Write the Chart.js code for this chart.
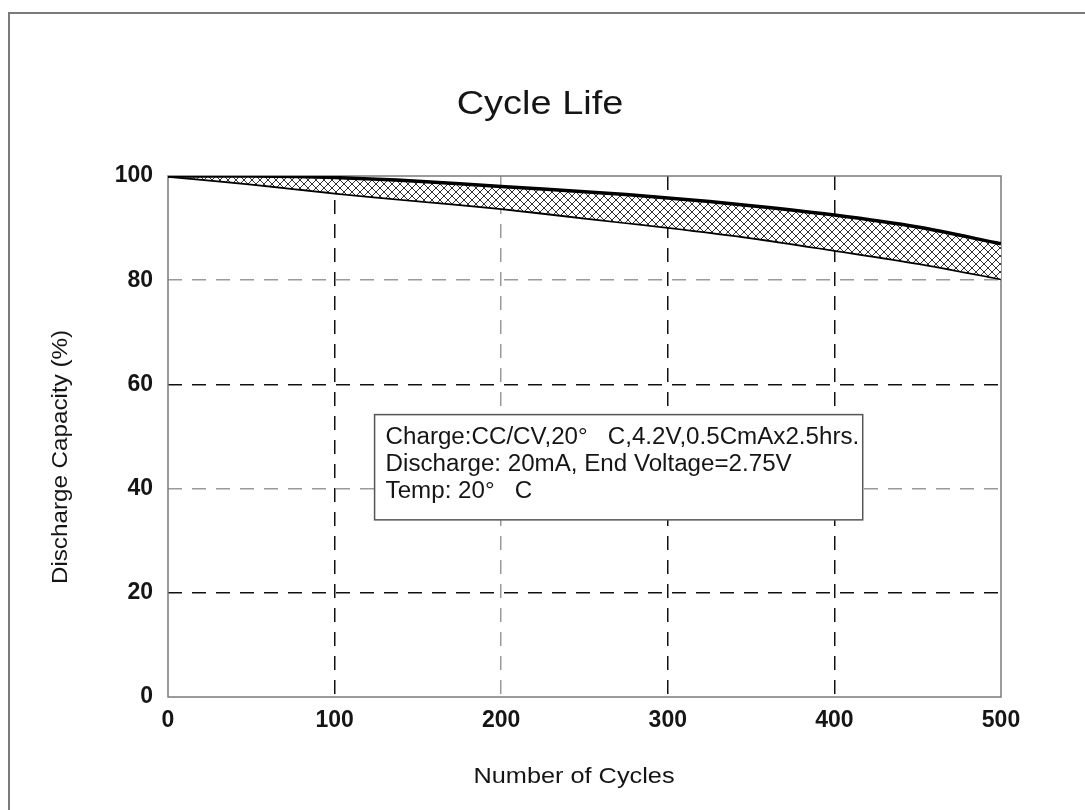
<!DOCTYPE html>
<html>
<head>
<meta charset="utf-8">
<script src="https://cdn.jsdelivr.net/npm/chart.js@4/dist/chart.umd.min.js"></script>
<style>
  body { margin: 0; background: #fff; }
  #wrap { width: 1085px; height: 810px; position: relative; }
</style>
</head>
<body>
<div id="wrap"><canvas id="cycleChart"></canvas></div>
<script>
const cycles = [0, 50, 100, 150, 200, 250, 300, 350, 400, 450, 500];
const upperCap = [100, 100, 99.7, 99, 98, 97, 95.8, 94.3, 92.5, 90.2, 87];
const lowerCap = [100, 98.5, 96.8, 95.3, 93.8, 92, 90.2, 88.2, 85.8, 83.3, 80.3];
const xTicks = [0, 100, 200, 300, 400, 500];
const yTicks = [0, 20, 40, 60, 80, 100];
const chartTitle = 'Cycle Life';
const xTitle = 'Number of Cycles';
const yTitle = 'Discharge Capacity (%)';
const noteLines = [
    'Charge:CC/CV,20°   C,4.2V,0.5CmAx2.5hrs.',
    'Discharge: 20mA, End Voltage=2.75V',
    'Temp: 20°   C'
];

const FONT = "'Liberation Sans', Arial, sans-serif";

function makeHatch() {
    const size = 8;
    const c = document.createElement('canvas');
    c.width = size; c.height = size;
    const g = c.getContext('2d');
    g.fillStyle = '#fff';
    g.fillRect(0, 0, size, size);
    g.strokeStyle = '#333';
    g.lineWidth = 1;
    g.beginPath();
    g.moveTo(0, 0); g.lineTo(size, size);
    g.moveTo(size, 0); g.lineTo(0, size);
    g.stroke();
    return g.createPattern(c, 'repeat');
}

// text drawn a bit wider, like the scanned original
function wideText(ctx, text, x, y, stretch, rot) {
    ctx.save();
    ctx.translate(x, y);
    if (rot) ctx.rotate(rot);
    ctx.scale(stretch, 1);
    ctx.fillText(text, 0, 0);
    ctx.restore();
}

// outer frame, plot box, titles
const framePlugin = {
    id: 'frame',
    beforeDraw(chart) {
        const ctx = chart.ctx;
        ctx.save();
        ctx.fillStyle = '#fff';
        ctx.fillRect(0, 0, chart.width, chart.height);
        ctx.strokeStyle = '#7a7a7a';
        ctx.lineWidth = 2;
        ctx.beginPath();
        ctx.moveTo(9, chart.height);
        ctx.lineTo(9, 13);
        ctx.lineTo(chart.width, 13);
        ctx.stroke();

        ctx.fillStyle = '#151515';
        ctx.textAlign = 'center';
        ctx.textBaseline = 'middle';
        ctx.font = '33px ' + FONT;
        wideText(ctx, chartTitle, 540, 105, 1.15);
        ctx.font = '22px ' + FONT;
        wideText(ctx, xTitle, 574, 777, 1.15);
        ctx.font = '22px ' + FONT;
        wideText(ctx, yTitle, 61, 457, 1.1, -Math.PI / 2);
        ctx.restore();
    },
    beforeDatasetsDraw(chart) {
        const {ctx, chartArea: a} = chart;
        ctx.save();
        ctx.strokeStyle = '#7a7a7a';
        ctx.lineWidth = 1.5;
        ctx.strokeRect(a.left, a.top, a.right - a.left, a.bottom - a.top);
        ctx.restore();
    }
};

// conditions text box
const notePlugin = {
    id: 'note',
    afterDatasetsDraw(chart) {
        const {ctx, scales: {x, y}} = chart;
        const left = x.getPixelForValue(124), right = x.getPixelForValue(417);
        const top = y.getPixelForValue(54.2), bottom = y.getPixelForValue(34);
        ctx.save();
        ctx.fillStyle = '#fff';
        ctx.fillRect(left, top, right - left, bottom - top);
        ctx.strokeStyle = '#555';
        ctx.lineWidth = 1.5;
        ctx.strokeRect(left, top, right - left, bottom - top);
        ctx.fillStyle = '#151515';
        ctx.font = '23px ' + FONT;
        ctx.textBaseline = 'middle';
        noteLines.forEach((t, i) => {
            wideText(ctx, t, left + 11, top + 23 + i * 27, 1.05);
        });
        ctx.restore();
    }
};

const gridColor = (val, opts) => {
    if (val === 0 || val === opts.max) return 'rgba(0,0,0,0)';
    return opts.grey.includes(val) ? '#9a9a9a' : '#111';
};

const ctx = document.getElementById('cycleChart').getContext('2d');
new Chart(ctx, {
    type: 'line',
    data: {
        datasets: [
            {
                label: 'Upper',
                data: cycles.map((c, i) => ({x: c, y: upperCap[i]})),
                borderColor: '#000',
                borderWidth: 3.5,
                pointRadius: 0,
                tension: 0.3,
                fill: '+1',
                backgroundColor: makeHatch()
            },
            {
                label: 'Lower',
                data: cycles.map((c, i) => ({x: c, y: lowerCap[i]})),
                borderColor: '#000',
                borderWidth: 3.5,
                pointRadius: 0,
                tension: 0.3,
                fill: false
            }
        ]
    },
    options: {
        responsive: true,
        maintainAspectRatio: false,
        animation: false,
        layout: { padding: { left: 0, right: 84, top: 176, bottom: 0 } },
        plugins: {
            legend: { display: false },
            tooltip: { enabled: false },
            title: { display: false }
        },
        scales: {
            x: {
                type: 'linear',
                min: 0,
                max: 500,
                afterBuildTicks: s => { s.ticks = xTicks.map(v => ({value: v})); },
                afterFit: s => { s.height = 113; },
                border: { display: false, dash: [14, 10] },
                grid: {
                    drawTicks: false,
                    lineWidth: 1.5,
                    color: c => gridColor(c.tick.value, {max: 500, grey: [200]})
                },
                ticks: {
                    padding: 10,
                    color: '#151515',
                    maxRotation: 0,
                    font: { family: FONT, size: 23, weight: 'bold' }
                }
            },
            y: {
                min: 0,
                max: 100,
                afterBuildTicks: s => { s.ticks = yTicks.map(v => ({value: v})); },
                afterFit: s => { s.width = 168; },
                border: { display: false, dash: [14, 10] },
                grid: {
                    drawTicks: false,
                    lineWidth: 1.5,
                    color: c => gridColor(c.tick.value, {max: 100, grey: [80, 40]})
                },
                ticks: {
                    padding: 15,
                    color: '#151515',
                    font: { family: FONT, size: 23, weight: 'bold' }
                }
            }
        }
    },
    plugins: [framePlugin, notePlugin]
});
</script>
</body>
</html>
